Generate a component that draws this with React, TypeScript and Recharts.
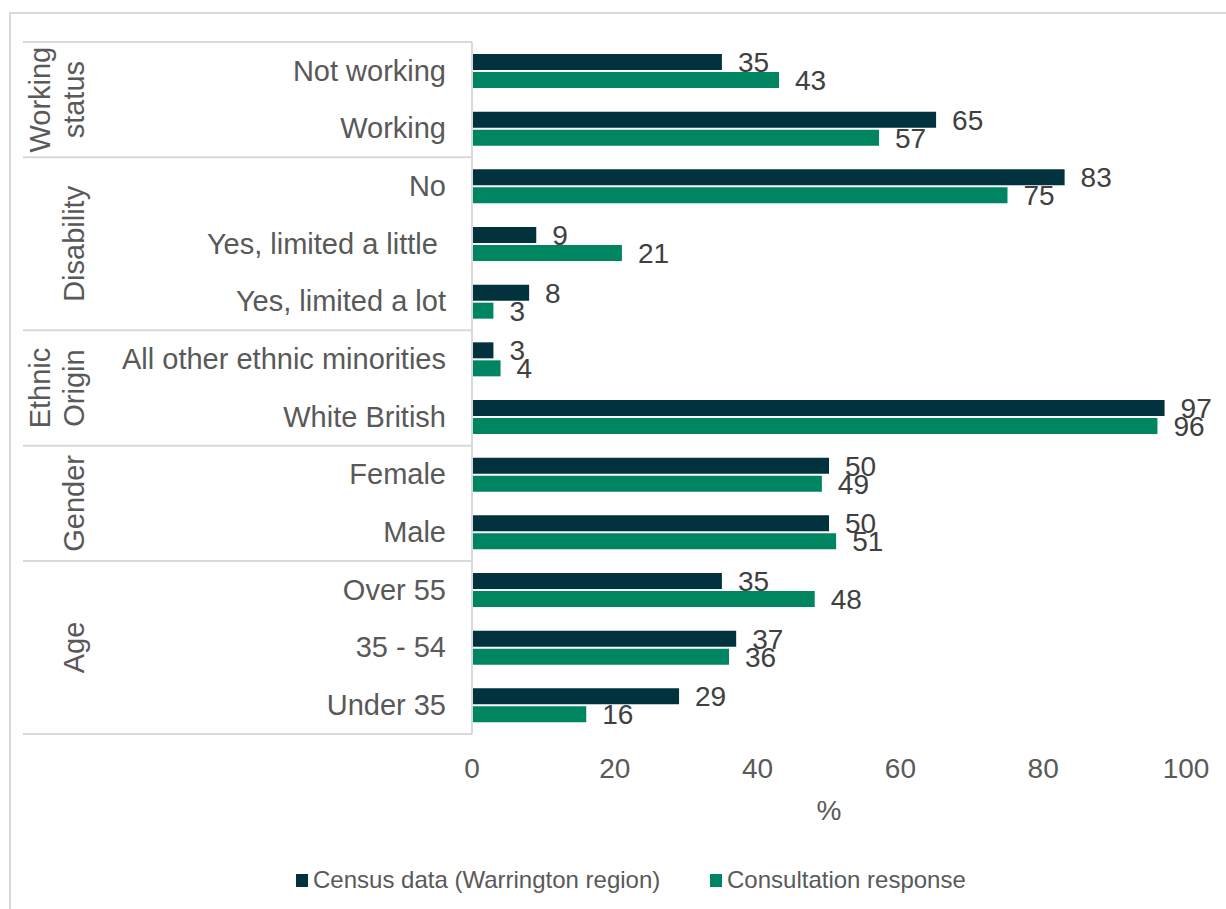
import React from 'react';
import { BarChart, Bar, XAxis, YAxis, LabelList, Legend } from 'recharts';

// Category labels, top to bottom
const categories = [
  'Not working',
  'Working',
  'No',
  'Yes, limited a little ',
  'Yes, limited a lot',
  'All other ethnic minorities',
  'White British',
  'Female',
  'Male',
  'Over 55',
  '35 - 54',
  'Under 35',
];

// Census data (Warrington region), %
const censusValues = [35, 65, 83, 9, 8, 3, 97, 50, 50, 35, 37, 29];

// Consultation response, %
const consultationValues = [43, 57, 75, 21, 3, 4, 96, 49, 51, 48, 36, 16];

// Group headings (one entry per line) and how many categories each group spans
const groupNames = [['Working', 'status'], ['Disability'], ['Ethnic', 'Origin'], ['Gender'], ['Age']];
const groupSizes = [2, 3, 2, 2, 3];

const xTicks = [0, 20, 40, 60, 80, 100];

const seriesNames = ['Census data (Warrington region)', 'Consultation response'];

const data = categories.map((c, i) => ({
  category: c,
  census: censusValues[i],
  consultation: consultationValues[i],
}));

const WIDTH = 1226;
const HEIGHT = 909;
const MARGIN = { top: 42, right: 40, bottom: 75, left: 0 };
const Y_AXIS_WIDTH = 472;
const X_AXIS_HEIGHT = 100;
const PLOT_H = HEIGHT - MARGIN.top - MARGIN.bottom - X_AXIS_HEIGHT;
const BAND = PLOT_H / categories.length;

const FONT = '"Liberation Sans", Arial, sans-serif';
const TEXT = '#595959';
const LABEL = '#404040';
const RULE = '#d9d9d9';
const DARK = '#01323d';
const GREEN = '#008563';

// group index for each category + first category index of each group
const groupOf: number[] = [];
const groupStart: number[] = [];
groupSizes.forEach((n, g) => {
  groupStart.push(groupOf.length);
  for (let k = 0; k < n; k++) groupOf.push(g);
});

function CategoryTick(props: any) {
  const { y, payload } = props;
  const i = categories.indexOf(payload.value);
  const g = groupOf[i];
  const parts: React.ReactNode[] = [];
  parts.push(
    <text
      key="t"
      x={Y_AXIS_WIDTH - 26}
      y={y}
      dy="0.34em"
      textAnchor="end"
      fontSize={29}
      fill={TEXT}
      fontFamily={FONT}
      style={{ whiteSpace: 'pre' }}
    >
      {payload.value}
    </text>
  );
  if (groupStart[g] === i) {
    const top = y - BAND / 2;
    const cy = top + (groupSizes[g] * BAND) / 2;
    parts.push(<line key="l" x1={23} x2={Y_AXIS_WIDTH} y1={top} y2={top} stroke={RULE} strokeWidth={2} />);
    const lines = groupNames[g];
    const xs = lines.length === 2 ? [50, 84] : [84];
    lines.forEach((t, k) => {
      parts.push(
        <text
          key={'g' + k}
          x={xs[k]}
          y={cy}
          transform={`rotate(-90 ${xs[k]} ${cy})`}
          textAnchor="middle"
          fontSize={29}
          fill={TEXT}
          fontFamily={FONT}
        >
          {t}
        </text>
      );
    });
  }
  if (i === categories.length - 1) {
    const bottom = y + BAND / 2;
    parts.push(<line key="b" x1={23} x2={Y_AXIS_WIDTH} y1={bottom} y2={bottom} stroke={RULE} strokeWidth={2} />);
  }
  return <g>{parts}</g>;
}

function LegendContent() {
  const colors = [DARK, GREEN];
  return (
    <div style={{ position: 'relative', width: WIDTH, height: 30, fontFamily: FONT }}>
      {seriesNames.map((name, i) => (
        <div
          key={name}
          style={{
            position: 'absolute',
            left: i === 0 ? 296 : 710,
            top: 0,
            height: 30,
            display: 'flex',
            alignItems: 'center',
            whiteSpace: 'nowrap',
          }}
        >
          <span style={{ display: 'inline-block', width: 12, height: 13, background: colors[i], marginRight: 5 }} />
          <span style={{ fontSize: 24, lineHeight: '30px', color: TEXT }}>{name}</span>
        </div>
      ))}
    </div>
  );
}

export default function App() {
  return (
    <div
      style={{
        position: 'absolute',
        left: 0,
        top: 0,
        width: WIDTH,
        height: HEIGHT,
        overflow: 'hidden',
        background: '#ffffff',
        fontFamily: FONT,
      }}
    >
      <div
        style={{
          position: 'absolute',
          left: 9,
          top: 12,
          width: 1300,
          height: 1000,
          border: `2px solid ${RULE}`,
          boxSizing: 'border-box',
        }}
      />
      <div style={{ position: 'absolute', left: 0, top: 0 }}>
        <BarChart
          width={WIDTH}
          height={HEIGHT}
          data={data}
          layout="vertical"
          margin={MARGIN}
          barSize={16}
          barGap={2}
        >
          <XAxis
            type="number"
            domain={[0, 100]}
            ticks={xTicks}
            axisLine={false}
            tickLine={false}
            tickSize={0}
            tickMargin={24}
            height={X_AXIS_HEIGHT}
            tick={{ fill: TEXT, fontSize: 28, fontFamily: FONT }}
            label={{ value: '%', position: 'insideBottom', offset: 14, fill: TEXT, fontSize: 28, fontFamily: FONT }}
          />
          <YAxis
            type="category"
            dataKey="category"
            width={Y_AXIS_WIDTH}
            interval={0}
            axisLine={{ stroke: RULE, strokeWidth: 2 }}
            tickLine={false}
            tick={(p: any) => <CategoryTick {...p} />}
          />
          <Legend
            layout="horizontal"
            verticalAlign="middle"
            align="center"
            wrapperStyle={{ top: 865, left: 0, width: WIDTH, height: 30 }}
            content={() => <LegendContent />}
          />
          <Bar dataKey="census" name={seriesNames[0]} fill={DARK} isAnimationActive={false}>
            <LabelList dataKey="census" position="right" offset={16} fill={LABEL} fontSize={28} fontFamily={FONT} />
          </Bar>
          <Bar dataKey="consultation" name={seriesNames[1]} fill={GREEN} isAnimationActive={false}>
            <LabelList dataKey="consultation" position="right" offset={16} fill={LABEL} fontSize={28} fontFamily={FONT} />
          </Bar>
        </BarChart>
      </div>
    </div>
  );
}
